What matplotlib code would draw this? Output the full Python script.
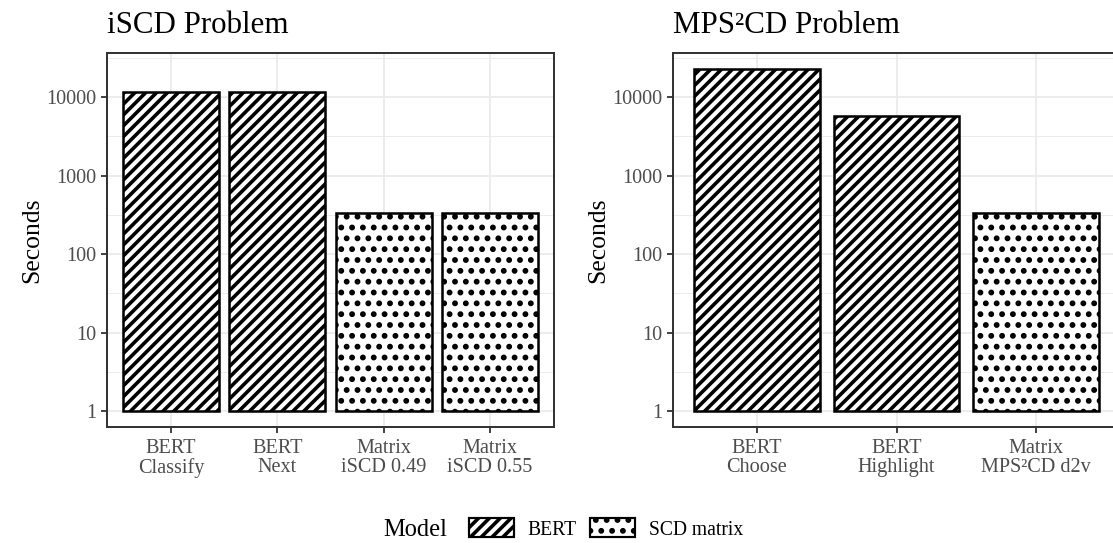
import numpy as np
import matplotlib
matplotlib.use("Agg")
from matplotlib import pyplot as plt
from matplotlib.patches import Patch
from matplotlib.ticker import FixedLocator, NullFormatter

plt.rcParams['font.family'] = ['Liberation Serif', 'DejaVu Serif']
plt.rcParams['hatch.linewidth'] = 2.0

# data (seconds, log scale)
iscd_labels = ["BERT\nClassify", "BERT\nNext", "Matrix\niSCD 0.49", "Matrix\niSCD 0.55"]
iscd_seconds = [11600, 11700, 330, 330]
iscd_model = ["BERT", "BERT", "SCD matrix", "SCD matrix"]

mps_labels = ["BERT\nChoose", "BERT\nHighlight", "Matrix\nMPS²CD d2v"]
mps_seconds = [22500, 5700, 330]
mps_model = ["BERT", "BERT", "SCD matrix"]

titles = ["iSCD Problem", "MPS²CD Problem"]
y_ticks = [1, 10, 100, 1000, 10000]
model_names = ["BERT", "SCD matrix"]
hatches = {"BERT": "////", "SCD matrix": ".."}

dpi = 130
W, H = 1113, 543
fig = plt.figure(figsize=(W / dpi, H / dpi), dpi=dpi)
ax1 = fig.add_axes([107 / W, 116 / H, 447 / W, 374 / H])
ax2 = fig.add_axes([673 / W, 116 / H, 447 / W, 374 / H])

tick_col = '#4D4D4D'
line_col = '#333333'
grid_col = '#EBEBEB'


def draw_panel(ax, labels, seconds, models, title):
    x = np.arange(len(labels))
    for i in range(len(labels)):
        ax.bar(x[i], seconds[i] - 1, bottom=1, width=0.9, facecolor='white',
               edgecolor='black', linewidth=1.4, hatch=hatches[models[i]], zorder=3)
    ax.set_yscale('log')
    ax.set_ylim(10 ** -0.2, 10 ** 4.56)
    ax.set_xlim(-0.6, len(labels) - 1 + 0.6)
    ax.yaxis.set_major_locator(FixedLocator(y_ticks))
    ax.set_yticklabels([str(t) for t in y_ticks])
    ax.yaxis.set_minor_locator(FixedLocator([10 ** (k + 0.5) for k in range(-1, 5)]))
    ax.yaxis.set_minor_formatter(NullFormatter())
    ax.set_xticks(x)
    ax.set_xticklabels(labels, linespacing=1.0)
    ax.tick_params(axis='both', which='major', labelsize=11.2, labelcolor=tick_col,
                   color=line_col, length=3.3, width=1.0, pad=2.5)
    ax.tick_params(axis='x', which='major', pad=3.5)
    ax.tick_params(axis='y', which='minor', length=0)
    ax.grid(True, which='major', color=grid_col, linewidth=1.0, zorder=0)
    ax.grid(True, which='minor', axis='y', color=grid_col, linewidth=0.55, zorder=0)
    ax.set_axisbelow(True)
    for s in ax.spines.values():
        s.set_color(line_col)
        s.set_linewidth(1.1)
    ax.set_ylabel("Seconds", fontsize=14.2, labelpad=2)
    ax.set_title(title, loc='left', fontsize=17.2, pad=11)


draw_panel(ax1, iscd_labels, iscd_seconds, iscd_model, titles[0])
draw_panel(ax2, mps_labels, mps_seconds, mps_model, titles[1])

handles = [Patch(facecolor='white', edgecolor='black', linewidth=1.2, hatch=hatches[m])
           for m in model_names]
fig.text(447 / W, 1 - 530 / H, "Model", fontsize=13.6, ha='right', va='center')
fig.legend(handles, model_names, loc='center', bbox_to_anchor=(606 / W, 1 - 529 / H),
           ncol=2, frameon=False, fontsize=10.9, handlelength=2.3, handleheight=1.1,
           handletextpad=0.7, columnspacing=0.66, borderpad=0, borderaxespad=0)

fig.savefig("out.png", dpi=dpi)
